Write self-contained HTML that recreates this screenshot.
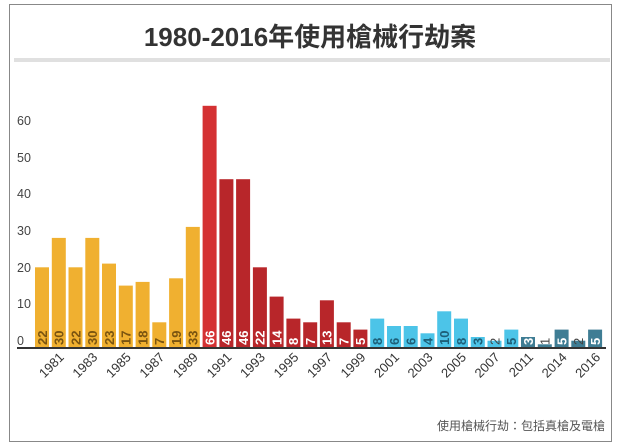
<!DOCTYPE html>
<html><head><meta charset="utf-8"><style>
html,body{margin:0;padding:0;background:#fff;width:620px;height:448px;overflow:hidden}
svg{display:block;font-family:"Liberation Sans","Noto Sans CJK TC",sans-serif}
</style></head><body>
<svg width="620" height="448" viewBox="0 0 620 448" xmlns="http://www.w3.org/2000/svg">
<rect x="9.5" y="4.5" width="602" height="437" fill="#fff" stroke="#888" stroke-width="1"/>
<text x="310" y="46" text-anchor="middle" font-size="26" font-weight="bold" fill="#333">1980-2016年使用槍械行劫案</text>
<rect x="14" y="58" width="596" height="4" fill="#e0e0e0"/>
<g font-size="12.5" fill="#444">
<text x="17" y="345">0</text><text x="17" y="308">10</text><text x="17" y="272">20</text><text x="17" y="235">30</text><text x="17" y="198">40</text><text x="17" y="162">50</text><text x="17" y="125">60</text>
</g>
<g>
<rect x="35.0" y="267.3" width="14" height="80.7" fill="#f0b030"/>
<rect x="51.8" y="237.9" width="14" height="110.1" fill="#f0b030"/>
<rect x="68.5" y="267.3" width="14" height="80.7" fill="#f0b030"/>
<rect x="85.3" y="237.9" width="14" height="110.1" fill="#f0b030"/>
<rect x="102.0" y="263.6" width="14" height="84.4" fill="#f0b030"/>
<rect x="118.8" y="285.6" width="14" height="62.4" fill="#f0b030"/>
<rect x="135.6" y="281.9" width="14" height="66.1" fill="#f0b030"/>
<rect x="152.3" y="322.3" width="14" height="25.7" fill="#f0b030"/>
<rect x="169.1" y="278.3" width="14" height="69.7" fill="#f0b030"/>
<rect x="185.8" y="226.9" width="14" height="121.1" fill="#f0b030"/>
<rect x="202.6" y="105.8" width="14" height="242.2" fill="#d43133"/>
<rect x="219.4" y="179.2" width="14" height="168.8" fill="#b8262a"/>
<rect x="236.1" y="179.2" width="14" height="168.8" fill="#b8262a"/>
<rect x="252.9" y="267.3" width="14" height="80.7" fill="#b8262a"/>
<rect x="269.6" y="296.6" width="14" height="51.4" fill="#b8262a"/>
<rect x="286.4" y="318.6" width="14" height="29.4" fill="#b8262a"/>
<rect x="303.2" y="322.3" width="14" height="25.7" fill="#b8262a"/>
<rect x="319.9" y="300.3" width="14" height="47.7" fill="#b8262a"/>
<rect x="336.7" y="322.3" width="14" height="25.7" fill="#b8262a"/>
<rect x="353.4" y="329.6" width="14" height="18.4" fill="#b8262a"/>
<rect x="370.2" y="318.6" width="14" height="29.4" fill="#4cc4e8"/>
<rect x="387.0" y="326.0" width="14" height="22.0" fill="#4cc4e8"/>
<rect x="403.7" y="326.0" width="14" height="22.0" fill="#4cc4e8"/>
<rect x="420.5" y="333.3" width="14" height="14.7" fill="#4cc4e8"/>
<rect x="437.2" y="311.3" width="14" height="36.7" fill="#4cc4e8"/>
<rect x="454.0" y="318.6" width="14" height="29.4" fill="#4cc4e8"/>
<rect x="470.8" y="337.0" width="14" height="11.0" fill="#4cc4e8"/>
<rect x="487.5" y="340.7" width="14" height="7.3" fill="#4cc4e8"/>
<rect x="504.3" y="329.6" width="14" height="18.4" fill="#4cc4e8"/>
<rect x="521.0" y="337.0" width="14" height="11.0" fill="#3f7d94"/>
<rect x="537.8" y="344.3" width="14" height="3.7" fill="#3f7d94"/>
<rect x="554.6" y="329.6" width="14" height="18.4" fill="#3f7d94"/>
<rect x="571.3" y="340.7" width="14" height="7.3" fill="#3f7d94"/>
<rect x="588.1" y="329.6" width="14" height="18.4" fill="#3f7d94"/>
</g>
<g font-size="13" font-weight="bold" fill="#7a5410">
<text transform="translate(46.8,345) rotate(-90)">22</text>
<text transform="translate(63.6,345) rotate(-90)">30</text>
<text transform="translate(80.3,345) rotate(-90)">22</text>
<text transform="translate(97.1,345) rotate(-90)">30</text>
<text transform="translate(113.8,345) rotate(-90)">23</text>
<text transform="translate(130.6,345) rotate(-90)">17</text>
<text transform="translate(147.4,345) rotate(-90)">18</text>
<text transform="translate(164.1,345) rotate(-90)">7</text>
<text transform="translate(180.9,345) rotate(-90)">19</text>
<text transform="translate(197.6,345) rotate(-90)">33</text>
</g>
<g font-size="13" font-weight="bold" fill="#fff">
<text transform="translate(214.4,345) rotate(-90)">66</text>
<text transform="translate(231.2,345) rotate(-90)">46</text>
<text transform="translate(247.9,345) rotate(-90)">46</text>
<text transform="translate(264.7,345) rotate(-90)">22</text>
<text transform="translate(281.4,345) rotate(-90)">14</text>
<text transform="translate(298.2,345) rotate(-90)">8</text>
<text transform="translate(315.0,345) rotate(-90)">7</text>
<text transform="translate(331.7,345) rotate(-90)">13</text>
<text transform="translate(348.5,345) rotate(-90)">7</text>
<text transform="translate(365.2,345) rotate(-90)">5</text>
<text transform="translate(532.8,345) rotate(-90)">3</text>
<text transform="translate(566.4,345) rotate(-90)">5</text>
<text transform="translate(599.9,345) rotate(-90)">5</text>
</g>
<g font-size="13" font-weight="bold" fill="#1d5f78">
<text transform="translate(382.0,345) rotate(-90)">8</text>
<text transform="translate(398.8,345) rotate(-90)">6</text>
<text transform="translate(415.5,345) rotate(-90)">6</text>
<text transform="translate(432.3,345) rotate(-90)">4</text>
<text transform="translate(449.0,345) rotate(-90)">10</text>
<text transform="translate(465.8,345) rotate(-90)">8</text>
<text transform="translate(482.6,345) rotate(-90)">3</text>
<text transform="translate(516.1,345) rotate(-90)">5</text>
</g>
<g font-size="13" fill="#444">
<text transform="translate(499.3,345) rotate(-90)">2</text>
<text transform="translate(549.6,345) rotate(-90)">1</text>
<text transform="translate(583.1,345) rotate(-90)">2</text>
</g>
<line x1="17" y1="348" x2="606" y2="348" stroke="#333" stroke-width="2"/>
<g font-size="13" fill="#333" text-anchor="end">
<text transform="translate(64.8,358) rotate(-45)">1981</text>
<text transform="translate(98.3,358) rotate(-45)">1983</text>
<text transform="translate(131.8,358) rotate(-45)">1985</text>
<text transform="translate(165.3,358) rotate(-45)">1987</text>
<text transform="translate(198.8,358) rotate(-45)">1989</text>
<text transform="translate(232.4,358) rotate(-45)">1991</text>
<text transform="translate(265.9,358) rotate(-45)">1993</text>
<text transform="translate(299.4,358) rotate(-45)">1995</text>
<text transform="translate(332.9,358) rotate(-45)">1997</text>
<text transform="translate(366.4,358) rotate(-45)">1999</text>
<text transform="translate(400.0,358) rotate(-45)">2001</text>
<text transform="translate(433.5,358) rotate(-45)">2003</text>
<text transform="translate(467.0,358) rotate(-45)">2005</text>
<text transform="translate(500.5,358) rotate(-45)">2007</text>
<text transform="translate(534.0,358) rotate(-45)">2011</text>
<text transform="translate(567.6,358) rotate(-45)">2014</text>
<text transform="translate(601.1,358) rotate(-45)">2016</text>
</g>
<text x="605" y="430" text-anchor="end" font-size="12" fill="#555">使用槍械行劫：包括真槍及電槍</text>
</svg>
</body></html>
